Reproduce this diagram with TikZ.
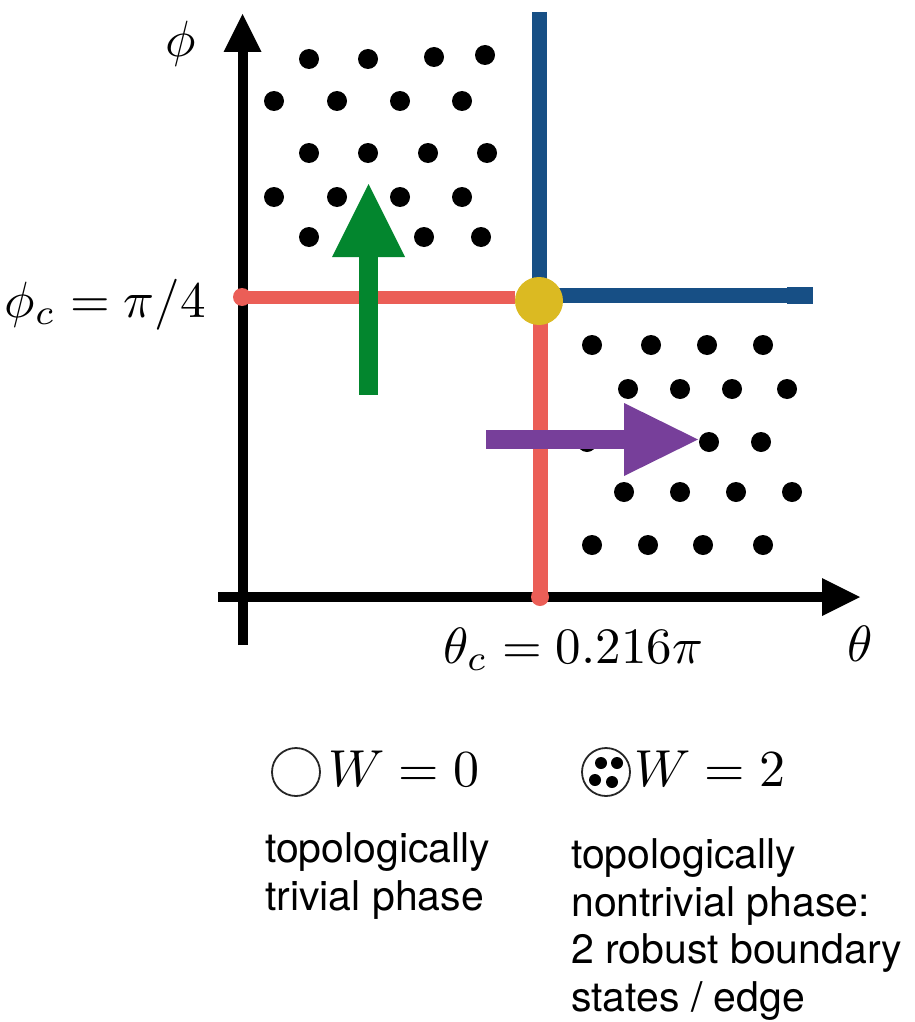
\documentclass[tikz,border=0pt]{standalone}
\usepackage{graphicx}
\usepackage{fontspec}
\usetikzlibrary{calc}
\newfontfamily\helv{TeX Gyre Heros}
\definecolor{cred}{RGB}{235,94,87}
\definecolor{cblue}{RGB}{23,79,133}
\definecolor{cyel}{RGB}{219,186,34}
\definecolor{cgreen}{RGB}{3,134,46}
\definecolor{cpurp}{RGB}{119,63,154}
\newcommand{\bigmath}[1]{\scalebox{5.1}{$#1$}}
\newcommand{\legmath}[1]{\scalebox{5.2}{$#1$}}
\tikzset{
  dotmark/.style={fill=black},
  axisline/.style={line width=10pt, black},
  redline/.style={line width=13pt, cred},
  blueline/.style={line width=15pt, cblue},
  mathlbl/.style={inner sep=0pt},
  desc/.style={inner sep=0pt, align=left, font=\helv\fontsize{41}{47.5}\selectfont},
  legcirc/.style={draw=black!85, line width=1.8pt, circle, minimum size=48pt, inner sep=0pt}
}
\begin{document}
\begin{tikzpicture}[x=1pt,y=-1pt]
\useasboundingbox (0,0) rectangle (914,1022);
% axes
\draw[axisline] (242.5,645) -- (242.5,50);
\fill (223.5,52) -- (261.5,52) -- (242.5,14) -- cycle;
\draw[axisline] (218,597) -- (824,597);
\fill (822,578) -- (822,616) -- (860,597) -- cycle;
% dots top-left
\foreach \x/\y in {309/59,368/59,434/57,485/55,
                   274/101,337/101,400/101,462/101,
                   309/153,368/153,428/153,487/153,
                   274/197,337/197,400/197,462/197,
                   309/237,424/237,481/237}
  \fill[dotmark] (\x,\y) circle (10);
% dots bottom-right
\foreach \x/\y in {592/345,651/345,707/345,763/345,
                   628/389,680/389,732/389,787/389,
                   587/442,709/442,761/442,
                   624/492,680/492,736/492,792/492,
                   592/545,648/545,703/545,763/545}
  \fill[dotmark] (\x,\y) circle (10);
% phase boundaries
\draw[blueline] (539,12) -- (539,296);
\draw[blueline] (539,295) -- (790,295);
\fill[cblue] (787,286.5) rectangle (813,303.5);
\draw[redline] (242,297) -- (515,297);
\draw[redline, line width=15pt] (540,302) -- (540,597);
\fill[cred] (242,297) circle (9);
\fill[cred] (540,597) circle (9);
\node[circle, fill=cyel, minimum size=48pt, inner sep=0pt] (crit) at (539,301) {};
% arrows
\fill[cgreen] (359,395) rectangle (378,256);
\fill[cgreen] (332,257) -- (405,257) -- (368.5,184) -- cycle;
\fill[cpurp] (486,430) rectangle (625,449);
\fill[cpurp] (624,403) -- (624,476) -- (698,439.5) -- cycle;
% axis labels
\node[mathlbl, anchor=base] (phi) at (181,57) {\bigmath{\phi}};
\node[mathlbl, anchor=base west] (theta) at (847,661) {\bigmath{\theta}};
\node[mathlbl, anchor=base east] (phic) at (206,317) {\bigmath{\phi_c=\pi/4}};
\node[mathlbl, anchor=base west] (thetac) at (443,663) {\bigmath{\theta_c=0.216\pi}};
% legend
\node[legcirc] (c0) at (296,772) {};
\node[mathlbl, anchor=base west] (w0) at (328,786) {\legmath{W=0}};
\node[legcirc] (c2) at (606,772) {};
\foreach \dx/\dy in {-5/-9,11/-9,-11/8,6/10}
  \fill ($(c2)+(\dx,\dy)$) circle (6);
\node[mathlbl, anchor=base west] (w2) at (634,786) {\legmath{W=2}};
% descriptions
\node[desc, anchor=base west] (triv) at (265,910) {topologically\\trivial phase};
\node[desc, anchor=base west] (nontriv) at (571,1011) {topologically\\nontrivial phase:\\2 robust boundary\\states / edge};
\end{tikzpicture}
\end{document}
